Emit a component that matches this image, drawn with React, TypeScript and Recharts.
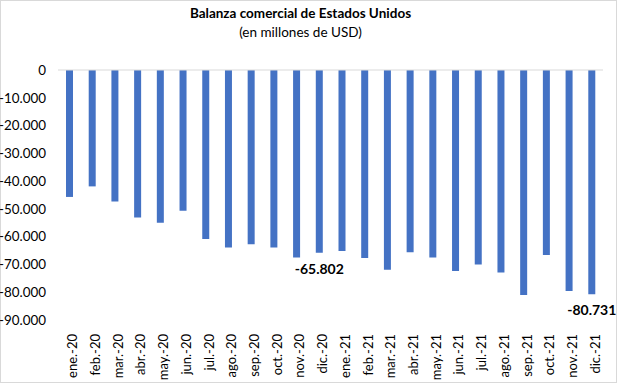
import React from "react";
import { BarChart, Bar, XAxis, YAxis, ReferenceLine, LabelList } from "recharts";

const months = [
  "ene.-20", "feb.-20", "mar.-20", "abr.-20", "may.-20", "jun.-20",
  "jul.-20", "ago.-20", "sep.-20", "oct.-20", "nov.-20", "dic.-20",
  "ene.-21", "feb.-21", "mar.-21", "abr.-21", "may.-21", "jun.-21",
  "jul.-21", "ago.-21", "sep.-21", "oct.-21", "nov.-21", "dic.-21",
];

const balance = [
  -45700, -41900, -47300, -53100, -55000, -50700,
  -60800, -63900, -62700, -63900, -67500, -65802,
  -65200, -67700, -71900, -65600, -67500, -72400,
  -70000, -72900, -81000, -66600, -79600, -80731,
];

const yTicks = [0, -10000, -20000, -30000, -40000, -50000, -60000, -70000, -80000, -90000];

const labeledMonths = ["dic.-20", "dic.-21"];

const data = months.map((m, i) => ({ month: m, value: balance[i] }));

const fmt = (v: number) => {
  const s = Math.abs(Math.round(v)).toString().replace(/\B(?=(\d{3})+(?!\d))/g, ".");
  return (v < 0 ? "-" : "") + s;
};

const FONT = "Lato, 'Open Sans', sans-serif";

function MonthTick(props: any) {
  const { x, y, payload } = props;
  const tx = x + 8;
  const ty = y + 6;
  return (
    <text
      x={tx}
      y={ty}
      transform={`rotate(-90 ${tx} ${ty})`}
      textAnchor="end"
      fontSize={13}
      fontFamily={FONT}
      fill="#000"
    >
      {payload.value}
    </text>
  );
}

function ValueLabel(props: any) {
  const { x, y, width, height, index } = props;
  if (!labeledMonths.includes(months[index])) return null;
  const cx = x + width / 2;
  const bottom = Math.max(y, y + height);
  return (
    <text
      x={cx}
      y={bottom + 21}
      textAnchor="middle"
      fontSize={14}
      fontWeight="bold"
      fontFamily={FONT}
      fill="#000"
    >
      {fmt(balance[index])}
    </text>
  );
}

export default function App() {
  return (
    <div
      style={{
        position: "fixed",
        left: 0,
        top: 0,
        width: 617,
        height: 383,
        background: "#fff",
        boxSizing: "border-box",
        border: "1px solid #d9d9d9",
        fontFamily: FONT,
      }}
    >
      <div
        style={{
          position: "absolute",
          top: 4,
          left: -9,
          width: 617,
          textAlign: "center",
          fontSize: 13.5,
          fontWeight: "bold",
          color: "#000",
        }}
      >
        Balanza comercial de Estados Unidos
      </div>
      <div
        style={{
          position: "absolute",
          top: 23,
          left: -9,
          width: 617,
          textAlign: "center",
          fontSize: 13.5,
          color: "#000",
        }}
      >
        (en millones de USD)
      </div>
      <div style={{ position: "absolute", left: -1, top: -1 }}>
        <BarChart
          width={617}
          height={383}
          data={data}
          margin={{ top: 70, right: 14, bottom: 0, left: 0 }}
          barSize={7}
        >
          <XAxis
            dataKey="month"
            axisLine={false}
            tickLine={false}
            interval={0}
            height={63}
            tick={<MonthTick />}
          />
          <YAxis
            domain={[-90000, 0]}
            ticks={yTicks}
            width={58}
            axisLine={false}
            tickLine={false}
            tickSize={0}
            tickMargin={12}
            tickFormatter={fmt}
            tick={{ fontSize: 13.4, fill: "#000", fontFamily: FONT }}
          />
          <ReferenceLine y={0} stroke="#d9d9d9" strokeWidth={1} />
          <Bar dataKey="value" fill="#4472C4" isAnimationActive={false}>
            <LabelList dataKey="value" content={<ValueLabel />} />
          </Bar>
        </BarChart>
      </div>
    </div>
  );
}
